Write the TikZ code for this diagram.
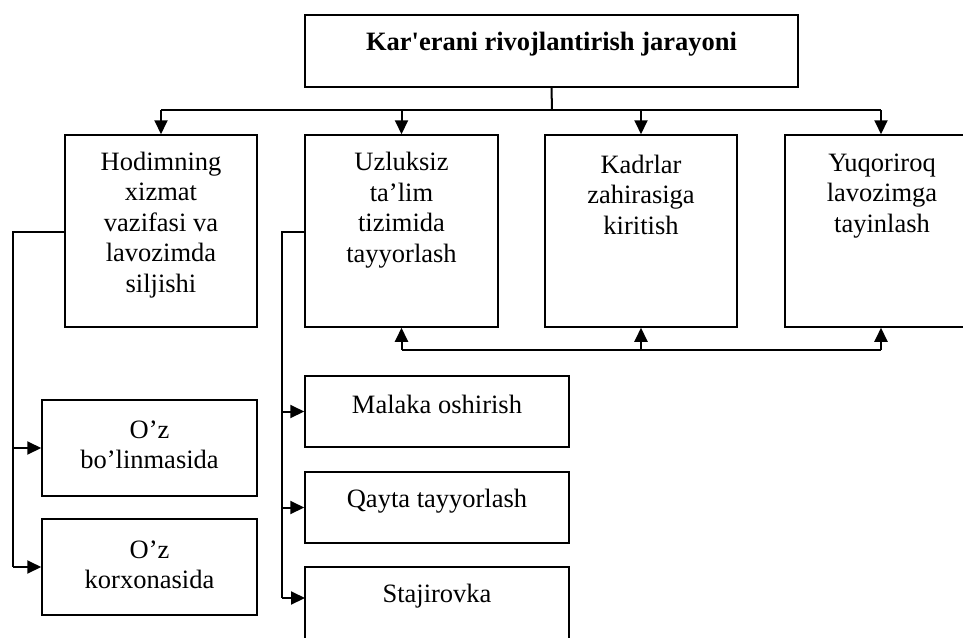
\documentclass[tikz,border=0pt]{standalone}
\usepackage{fontspec}
\setmainfont{Liberation Serif}[Ligatures=TeXOff]
\usetikzlibrary{arrows.meta}
\begin{document}
\begin{tikzpicture}[x=1pt,y=-1pt,
  box/.style={draw=black,line width=1.5pt,rectangle,inner sep=0pt,fill=white},
  txt/.style={inner sep=0pt,align=center,font=\fontsize{26.5}{30.5}\selectfont},
  conn/.style={line width=2pt},
  arr/.style={line width=2pt,-{Triangle[length=14pt,width=13pt]}},
  ]
\useasboundingbox (0,0) rectangle (963,637);
\clip (0,0) rectangle (963,637);
\fill[white] (0,0) rectangle (963,637);
% boxes
\node[box,minimum width=493pt,minimum height=72pt] (top) at (551.5,51) {};
\node[txt,font=\fontsize{26.5}{30.5}\selectfont\bfseries] (ttop) at (551.5,44) {Kar'erani rivojlantirish jarayoni};
\node[box,minimum width=192pt,minimum height=192pt] (b1) at (161,231) {};
\node[box,minimum width=193pt,minimum height=192pt] (b2) at (401.5,231) {};
\node[box,minimum width=192pt,minimum height=192pt] (b3) at (641,231) {};
\node[box,minimum width=192pt,minimum height=192pt] (b4) at (881,231) {};
\node[txt] (t1) at (161,225) {Hodimning\\xizmat\\vazifasi va\\lavozimda\\siljishi};
\node[txt] (t2) at (401.5,210) {Uzluksiz\\ta’lim\\tizimida\\tayyorlash};
\node[txt] (t3) at (641,194.5) {Kadrlar\\zahirasiga\\kiritish};
\node[txt] (t4) at (882,196) {Yuqoriroq\\lavozimga\\tayinlash};
\node[box,minimum width=215pt,minimum height=96pt] (b5) at (149.5,448) {};
\node[box,minimum width=215pt,minimum height=96pt] (b6) at (149.5,567) {};
\node[txt] (t5) at (149.5,445) {O’z\\bo’linmasida};
\node[txt] (t6) at (149.5,565) {O’z\\korxonasida};
\node[box,minimum width=264pt,minimum height=71pt] (b7) at (437,411.5) {};
\node[box,minimum width=264pt,minimum height=71pt] (b8) at (437,507.5) {};
\node[box,minimum width=264pt,minimum height=90pt] (b9) at (437,612) {};
\node[txt] (t7) at (437,404) {Malaka oshirish};
\node[txt] (t8) at (437,501) {Qayta tayyorlash};
\node[txt] (t9) at (437,596) {Stajirovka};
% connectors top
\coordinate (hub) at (552,110);
\coordinate (low) at (552,350);
\coordinate (l1) at (13,232);
\coordinate (l2) at (282,232);
\coordinate (a9) at (305,598);
\draw[conn] (top.south) -- (hub);
\draw[conn] (b1.north |- hub) -- (b4.north |- hub);
\foreach \b in {b1,b2,b3,b4}{\draw[arr] (\b.north |- hub) -- (\b.north);}
\draw[conn] (b2.south |- low) -- (b4.south |- low);
\foreach \b in {b2,b3,b4}{\draw[arr] (\b.south |- low) -- (\b.south);}
% left branch
\draw[conn] (l1 -| b1.west) -- (l1) -- (l1 |- b6.west);
\draw[arr] (l1 |- b5.west) -- (b5.west);
\draw[arr] (l1 |- b6.west) -- (b6.west);
% second branch
\draw[conn] (l2 -| b2.west) -- (l2) -- (l2 |- a9);
\draw[arr] (l2 |- b7.west) -- (b7.west);
\draw[arr] (l2 |- b8.west) -- (b8.west);
\draw[arr] (l2 |- a9) -- (a9);
\end{tikzpicture}
\end{document}
